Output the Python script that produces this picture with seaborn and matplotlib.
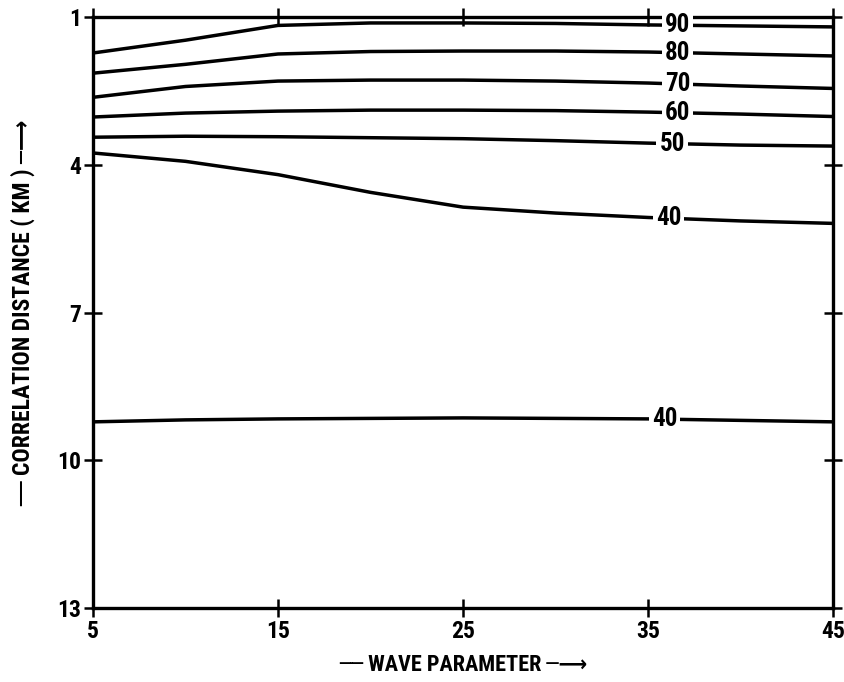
import numpy as np
import pandas as pd
import matplotlib
matplotlib.use("Agg")
import matplotlib.pyplot as plt
import seaborn as sns
from matplotlib import font_manager

# ---- data ----
wave = [5, 10, 15, 20, 25, 30, 35, 40, 45]
c90 = [1.73, 1.47, 1.17, 1.12, 1.12, 1.13, 1.16, 1.18, 1.20]
c80 = [2.14, 1.96, 1.75, 1.70, 1.69, 1.69, 1.71, 1.75, 1.79]
c70 = [2.63, 2.41, 2.30, 2.28, 2.28, 2.30, 2.34, 2.40, 2.45]
c60 = [3.03, 2.95, 2.91, 2.89, 2.89, 2.90, 2.93, 2.97, 3.02]
c50 = [3.44, 3.42, 3.43, 3.45, 3.47, 3.51, 3.56, 3.60, 3.62]
c40_upper = [3.76, 3.93, 4.20, 4.56, 4.86, 4.98, 5.07, 5.14, 5.19]
c40_lower = [9.22, 9.18, 9.16, 9.15, 9.14, 9.15, 9.16, 9.19, 9.22]

curve_names = ["90", "80", "70", "60", "50", "40a", "40b"]
curve_labels = ["90", "80", "70", "60", "50", "40", "40"]
curve_values = [c90, c80, c70, c60, c50, c40_upper, c40_lower]
label_x = [36.6, 36.6, 36.6, 36.6, 36.3, 36.1, 35.9]

x_ticks = [5, 15, 25, 35, 45]
y_ticks = [1, 4, 7, 10, 13]

rows = []
for name, vals in zip(curve_names, curve_values):
    for xv, yv in zip(wave, vals):
        rows.append({"curve": name, "wave": xv, "dist": yv})
df = pd.DataFrame(rows)

sns.set_style("ticks")
names = {f.name for f in font_manager.fontManager.ttflist}
fam = ["DejaVu Sans"]
for cand in ["Liberation Sans Narrow", "DejaVu Sans Condensed", "Roboto Condensed", "Open Sans Condensed"]:
    if cand in names:
        fam = [cand, "DejaVu Sans"]
        break
plt.rcParams["font.family"] = fam
plt.rcParams["font.stretch"] = "condensed"
plt.rcParams["text.color"] = "black"
plt.rcParams["axes.labelcolor"] = "black"
plt.rcParams["xtick.color"] = "black"
plt.rcParams["ytick.color"] = "black"

fig = plt.figure(figsize=(8.45, 6.82), dpi=100)
ax = fig.add_axes([0.110, 0.1085, 0.876, 0.8665])

sns.lineplot(data=df, x="wave", y="dist", units="curve", estimator=None,
             color="black", linewidth=2.5, ax=ax, legend=False)

for lab, lx, vals in zip(curve_labels, label_x, curve_values):
    ly = float(np.interp(lx, wave, vals))
    ax.text(lx, ly, lab, ha="center", va="center", fontsize=18,
            fontweight="bold", color="black",
            bbox=dict(boxstyle="square,pad=0.12", fc="white", ec="none"))

ax.set_xlim(5, 45)
ax.set_ylim(13, 1)
ax.set_xticks(x_ticks)
ax.set_yticks(y_ticks)
ax.set_xticklabels([str(v) for v in x_ticks], fontsize=17, fontweight="bold")
ax.set_yticklabels([str(v) for v in y_ticks], fontsize=17, fontweight="bold")
ax.tick_params(direction="inout", length=13, width=1.8, color="black",
               top=True, right=True, pad=2)
for sp in ax.spines.values():
    sp.set_linewidth(2.4)
    sp.set_color("black")

ax.set_xlabel("── WAVE PARAMETER ─⟶", fontsize=16, fontweight="bold", labelpad=8)
ax.set_ylabel("── CORRELATION DISTANCE ( KM ) ─⟶", fontsize=17,
              fontweight="bold", labelpad=16)

fig.savefig("out.png", dpi=100)
